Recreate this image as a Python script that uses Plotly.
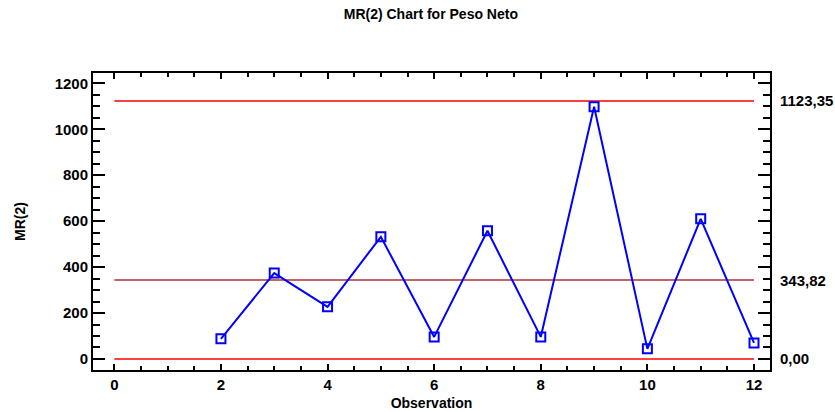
import plotly.graph_objects as go

obs = [2, 3, 4, 5, 6, 7, 8, 9, 10, 11, 12]
mr = [88, 374, 227, 532, 96, 558, 96, 1098, 44, 610, 70]
ucl, cl, lcl = 1123.35, 343.82, 0.0
limit_labels = ["1123,35", "343,82", "0,00"]
x_span = [0, 12]

FONT = "Liberation Sans Narrow, Arial Narrow, Liberation Sans, Arial"

fig = go.Figure()
fig.add_trace(go.Scatter(x=x_span, y=[ucl, ucl], mode="lines",
                         line=dict(color="#FF0000", width=1.5), hoverinfo="skip"))
fig.add_trace(go.Scatter(x=x_span, y=[cl, cl], mode="lines",
                         line=dict(color="#B03030", width=1.5), hoverinfo="skip"))
fig.add_trace(go.Scatter(x=x_span, y=[lcl, lcl], mode="lines",
                         line=dict(color="#FF0000", width=1.5), hoverinfo="skip"))
fig.add_trace(go.Scatter(x=obs, y=mr, mode="lines+markers",
                         line=dict(color="#0000FF", width=2),
                         marker=dict(symbol="square-open", size=9, color="#0000FF",
                                     line=dict(width=2, color="#0000FF"))))

for v, t in zip([ucl, cl, lcl], limit_labels):
    fig.add_annotation(x=1.0, xref="paper", xanchor="left", xshift=8,
                       y=v, yref="y", text=t, showarrow=False,
                       font=dict(family=FONT, size=15, color="black", weight="bold"))

axis_common = dict(showgrid=False, zeroline=False, showline=True, linecolor="black",
                   linewidth=2, mirror="allticks", ticks="inside",
                   tickwidth=2, tickcolor="black", automargin=False,
                   tickfont=dict(family=FONT, size=15, color="black", weight="bold"))

fig.update_layout(
    width=835, height=412,
    margin=dict(l=93, r=65, t=73, b=42),
    paper_bgcolor="white", plot_bgcolor="white",
    showlegend=False,
    title=dict(text="MR(2) Chart for Peso Neto", x=0.516, xanchor="center",
               y=0.965, yanchor="middle",
               font=dict(family=FONT, size=14, color="black", weight="bold")),
    xaxis=dict(range=[-0.4, 12.3], tick0=0, dtick=2, ticklen=6,
               minor=dict(dtick=0.5, ticks="inside", ticklen=4, tickwidth=2, tickcolor="black"),
               title=dict(text="Observation", standoff=6,
                          font=dict(family=FONT, size=14, color="black", weight="bold")),
               **axis_common),
    yaxis=dict(range=[-48, 1245], tick0=0, dtick=200, ticklen=12,
               minor=dict(dtick=50, ticks="inside", ticklen=7, tickwidth=2, tickcolor="black"),
               title=dict(text="MR(2)", standoff=26,
                          font=dict(family=FONT, size=14, color="black", weight="bold")),
               **axis_common),
)

fig.write_html("out.html")
